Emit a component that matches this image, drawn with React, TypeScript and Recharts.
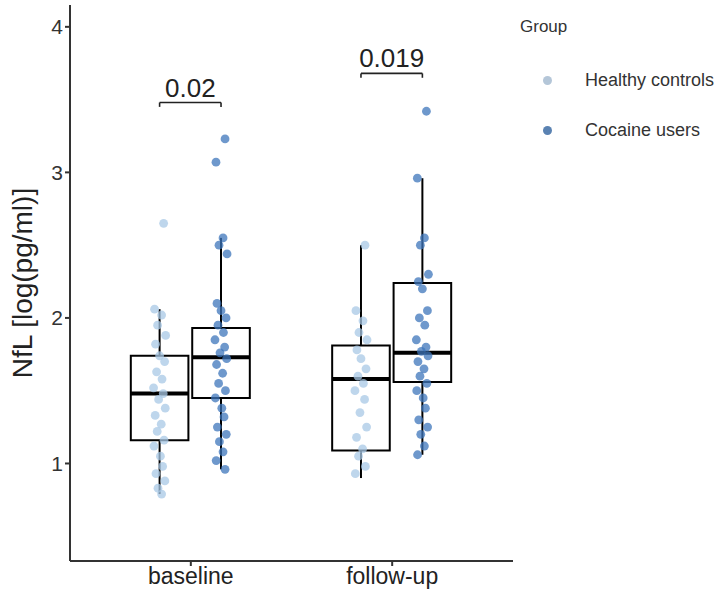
import React from 'react';
import {
  ComposedChart,
  Scatter,
  XAxis,
  YAxis,
  ReferenceArea,
  ReferenceLine,
} from 'recharts';

const timepoints = ['baseline', 'follow-up'];
const groups = ['Healthy controls', 'Cocaine users'];
const groupColors = ['#a8c8e6', '#3d76bb'];
const legendColors = ['#b4c6d8', '#5a82b2'];

// NfL per subject, log(pg/ml)
const healthyBaseline = [2.65, 2.06, 2.02, 1.95, 1.88, 1.82, 1.74, 1.7, 1.63, 1.58, 1.52, 1.48, 1.44, 1.38, 1.33, 1.27, 1.22, 1.16, 1.12, 1.05, 0.98, 0.93, 0.88, 0.83, 0.79];
const cocaineBaseline = [3.23, 3.07, 2.55, 2.5, 2.44, 2.1, 2.05, 2.0, 1.95, 1.9, 1.85, 1.8, 1.76, 1.72, 1.68, 1.62, 1.55, 1.5, 1.45, 1.38, 1.32, 1.25, 1.2, 1.15, 1.08, 1.02, 0.96];
const healthyFollowUp = [2.5, 2.05, 1.98, 1.9, 1.85, 1.78, 1.72, 1.65, 1.6, 1.55, 1.5, 1.44, 1.35, 1.25, 1.18, 1.1, 1.05, 0.98, 0.93];
const cocaineFollowUp = [3.42, 2.96, 2.55, 2.5, 2.3, 2.25, 2.2, 2.05, 2.0, 1.95, 1.85, 1.8, 1.77, 1.74, 1.7, 1.65, 1.6, 1.55, 1.5, 1.45, 1.38, 1.3, 1.25, 1.2, 1.12, 1.06];

// horizontal jitter, in category units
const jitter = [0.02, -0.025, 0.01, -0.01, 0.03, -0.02, 0.0, 0.025, -0.015, 0.012, -0.03, 0.018, -0.005, 0.028, -0.022, 0.008, -0.012, 0.022, -0.028, 0.004, 0.015, -0.018, 0.026, -0.008, 0.01, -0.024, 0.02];

// [lower whisker, Q1, median, Q3, upper whisker]
const boxHealthyBaseline = [0.79, 1.16, 1.48, 1.74, 2.06];
const boxCocaineBaseline = [0.96, 1.45, 1.73, 1.93, 2.55];
const boxHealthyFollowUp = [0.9, 1.09, 1.58, 1.81, 2.5];
const boxCocaineFollowUp = [1.06, 1.56, 1.76, 2.24, 2.96];

const pValues = ['0.02', '0.019'];
const bracketHeights = [3.48, 3.68];

const DODGE = [-0.155, 0.15];
const HALF = 0.143;
const FONT = '"Liberation Sans", Arial, sans-serif';

const toPoints = (values: number[], t: number, g: number) =>
  values.map((v, i) => ({ x: t + 1 + DODGE[g] + jitter[i % jitter.length], y: v }));

const healthyPoints = [...toPoints(healthyBaseline, 0, 0), ...toPoints(healthyFollowUp, 1, 0)];
const cocainePoints = [...toPoints(cocaineBaseline, 0, 1), ...toPoints(cocaineFollowUp, 1, 1)];

const boxes = [
  { t: 0, g: 0, s: boxHealthyBaseline },
  { t: 0, g: 1, s: boxCocaineBaseline },
  { t: 1, g: 0, s: boxHealthyFollowUp },
  { t: 1, g: 1, s: boxCocaineFollowUp },
];

// legend sits to the right of the panel, outside the plot layout
const GroupLegend = () => (
  <div style={{ position: 'absolute', left: 520, top: 17, fontFamily: FONT, color: '#333' }}>
    <div style={{ fontSize: 17, marginBottom: 18 }}>Group</div>
    {groups.map((g, i) => (
      <div key={g} style={{ display: 'flex', alignItems: 'center', height: 50, fontSize: 18 }}>
        <span
          style={{
            display: 'inline-block',
            width: 9,
            height: 9,
            borderRadius: '50%',
            background: legendColors[i],
            marginLeft: 23,
            marginRight: 33,
          }}
        />
        {g}
      </div>
    ))}
  </div>
);

const dot = (color: string, opacity: number) => (props: any) =>
  <circle cx={props.cx} cy={props.cy} r={4.4} fill={color} fillOpacity={opacity} />;

export default function App() {
  return (
    <div style={{ position: 'absolute', left: 0, top: 0, width: 718, height: 600, background: '#fff' }}>
      <ComposedChart width={718} height={600} margin={{ top: 5, right: 205, bottom: 0, left: 0 }}>
        <XAxis
          type="number"
          dataKey="x"
          domain={[0.4, 2.6]}
          ticks={[1, 2]}
          allowDataOverflow
          tickFormatter={(v) => timepoints[v - 1]}
          height={39}
          tickSize={5}
          tick={{ fontSize: 23, fill: '#222', fontFamily: FONT }}
          stroke="#333"
          strokeWidth={2}
        />
        <YAxis
          type="number"
          dataKey="y"
          domain={[0.33, 4.15]}
          ticks={[1, 2, 3, 4]}
          allowDataOverflow
          width={70}
          tickSize={5}
          tick={{ fontSize: 21, fill: '#333', fontFamily: FONT }}
          stroke="#333"
          strokeWidth={2}
          label={{
            value: 'NfL [log(pg/ml)]',
            angle: -90,
            position: 'insideLeft',
            offset: 22,
            style: { textAnchor: 'middle', fontSize: 28, fill: '#222', fontFamily: FONT },
          }}
        />

        {boxes.map(({ t, g, s }) => {
          const c = t + 1 + DODGE[g];
          return (
            <React.Fragment key={`${t}-${g}`}>
              <ReferenceLine segment={[{ x: c, y: s[3] }, { x: c, y: s[4] }]} stroke="#000" strokeWidth={2} />
              <ReferenceLine segment={[{ x: c, y: s[0] }, { x: c, y: s[1] }]} stroke="#000" strokeWidth={2} />
              <ReferenceArea
                x1={c - HALF}
                x2={c + HALF}
                y1={s[1]}
                y2={s[3]}
                fill="#fff"
                fillOpacity={0}
                stroke="#000"
                strokeWidth={2}
              />
              <ReferenceLine
                segment={[{ x: c - HALF, y: s[2] }, { x: c + HALF, y: s[2] }]}
                stroke="#000"
                strokeWidth={4}
              />
            </React.Fragment>
          );
        })}

        {pValues.map((p, t) => {
          const x1 = t + 1 + DODGE[0];
          const x2 = t + 1 + DODGE[1];
          const h = bracketHeights[t];
          return (
            <React.Fragment key={p}>
              <ReferenceLine
                segment={[{ x: x1, y: h }, { x: x2, y: h }]}
                stroke="#222"
                strokeWidth={1.6}
                label={{ value: p, position: 'top', offset: 6, fontSize: 26, fill: '#222', fontFamily: FONT }}
              />
              <ReferenceLine segment={[{ x: x1, y: h }, { x: x1, y: h - 0.03 }]} stroke="#222" strokeWidth={1.6} />
              <ReferenceLine segment={[{ x: x2, y: h }, { x: x2, y: h - 0.03 }]} stroke="#222" strokeWidth={1.6} />
            </React.Fragment>
          );
        })}

        <Scatter
          name={groups[0]}
          data={healthyPoints}
          isAnimationActive={false}
          shape={dot(groupColors[0], 0.75)}
        />
        <Scatter
          name={groups[1]}
          data={cocainePoints}
          isAnimationActive={false}
          shape={dot(groupColors[1], 0.75)}
        />
      </ComposedChart>
      <GroupLegend />
    </div>
  );
}
